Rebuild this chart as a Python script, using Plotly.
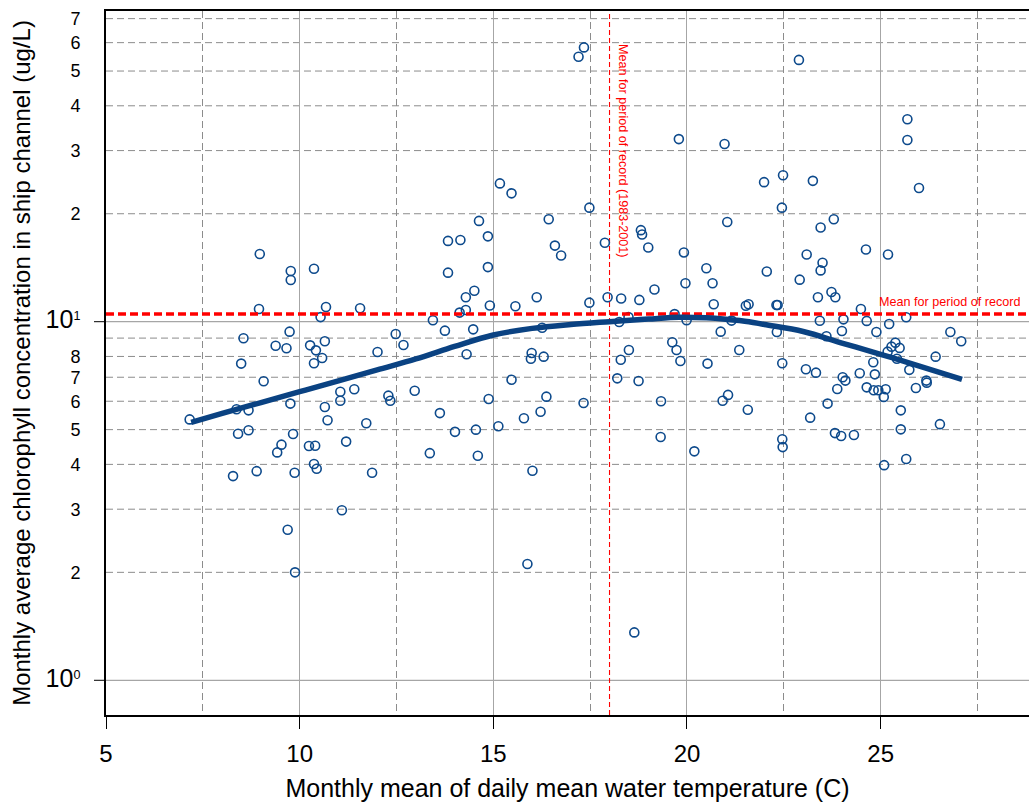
import math
import plotly.graph_objects as go

# ---------------- data ----------------
temp = [
    8.97, 9.77, 9.77, 10.37,
    17.20, 17.34, 19.79, 15.17, 15.47, 17.48, 14.63, 16.43, 13.83, 14.15, 14.86, 16.59, 16.75,
    18.81, 18.84, 19.00, 17.88, 19.92, 13.83, 14.86, 19.96, 14.51, 14.29, 16.12, 17.48, 17.95,
    18.30, 18.77, 19.16,
    22.89, 25.69, 25.69, 25.99, 20.97, 21.99, 22.48, 23.25, 22.45, 21.04, 23.45, 23.79, 20.50,
    20.66, 24.62, 25.19, 22.06, 23.09, 23.50, 23.45, 22.91, 23.73, 23.83, 23.38,
    8.95, 10.68, 10.54, 11.56, 9.74, 8.55, 9.38, 9.66, 10.27, 10.42, 10.65, 10.58, 10.37, 8.49,
    9.07, 12.48, 12.68, 12.01, 11.05, 11.41, 11.05, 10.65, 10.72, 12.29, 12.34, 12.97, 8.37,
    8.68, 9.76, 7.16, 8.41, 8.68, 9.83, 11.72, 11.20, 10.24, 10.40, 9.53, 9.42, 10.37, 10.44,
    8.28, 8.89, 9.87, 11.87, 11.09, 13.36,
    13.44, 13.75, 14.13, 14.29, 14.91, 15.57, 14.48, 14.31, 16.26, 15.99, 15.97, 16.30, 15.47,
    14.88, 16.37, 16.22, 15.79, 13.62, 14.01, 14.55, 15.13, 14.60, 16.01, 17.33, 20.69, 21.52,
    21.59, 18.25, 18.49, 19.68, 19.99, 21.15, 20.87, 19.62, 19.73, 18.50, 18.29, 19.83, 20.53,
    21.35, 18.20, 18.75, 19.33, 20.92, 21.06, 21.57, 19.32, 20.19,
    22.31, 22.34, 23.43, 24.04, 24.49, 24.64, 25.66, 25.22, 22.32, 23.60, 24.00, 24.89, 26.80,
    27.08, 25.38, 25.28, 25.49, 25.18, 25.42, 26.42, 22.46, 24.81, 23.07, 23.33, 25.74, 24.46,
    24.85, 24.02, 24.09, 26.18, 26.19, 23.88, 24.64, 24.82, 24.94, 25.13, 25.08, 25.91, 23.63,
    23.18, 25.52, 26.53, 25.52, 23.82, 23.98, 24.31, 22.46, 22.47, 25.66, 25.09,
    9.69, 9.88, 15.88, 18.64,
]
chl = [
    15.45, 13.85, 13.07, 14.05,
    54.8, 58.2, 32.3, 24.3, 22.8, 20.8, 19.1, 19.3, 16.8, 16.9, 17.3, 16.3, 15.3,
    18.0, 17.5, 16.1, 16.6, 15.6, 13.7, 14.2, 12.8, 12.2, 11.7, 11.7, 11.3, 11.7,
    11.6, 11.5, 12.3,
    53.7, 36.7, 32.1, 23.6, 31.3, 24.5, 25.6, 24.7, 20.8, 18.97, 18.3, 19.3, 14.1,
    12.8, 15.9, 15.4, 13.8, 15.4, 14.6, 13.9, 13.1, 12.1, 11.7, 11.7,
    10.85, 10.99, 10.3, 10.9, 9.38, 8.99, 8.57, 8.43, 8.59, 8.32, 8.82, 7.92, 7.66, 7.64,
    6.82, 9.24, 8.61, 8.23, 6.38, 6.48, 6.02, 5.78, 5.31, 6.22, 6.02, 6.42, 5.70,
    5.66, 5.91, 5.34, 4.87, 4.98, 4.86, 5.21, 4.63, 4.50, 4.51, 4.54, 4.32, 4.01, 3.89,
    3.71, 3.83, 3.79, 3.79, 2.98, 4.30,
    10.09, 9.44, 10.6, 10.78, 11.1, 11.04, 9.52, 8.11, 9.62, 8.18, 7.88, 7.99, 6.89,
    6.09, 6.18, 5.61, 5.38, 5.56, 4.93, 5.00, 5.11, 4.23, 3.84, 5.93, 11.18, 11.08,
    11.18, 9.98, 10.3, 10.5, 10.1, 10.07, 9.38, 8.76, 8.34, 8.34, 7.83, 7.77, 7.64,
    8.34, 6.95, 6.83, 6.00, 6.02, 6.25, 5.68, 4.77, 4.35,
    11.13, 11.13, 10.06, 10.15, 10.85, 10.05, 10.29, 9.85, 9.36, 9.11, 9.42, 9.36, 9.36,
    8.82, 8.74, 8.52, 8.45, 8.25, 7.88, 7.99, 7.66, 7.71, 7.37, 7.21, 7.34, 7.18,
    7.13, 7.00, 6.85, 6.85, 6.76, 6.49, 6.56, 6.44, 6.44, 6.48, 6.17, 6.53, 5.91,
    5.40, 5.66, 5.18, 5.01, 4.89, 4.80, 4.83, 4.70, 4.47, 4.14, 3.98,
    2.63, 2.00, 2.11, 1.36,
]

curve_temp = [7.2, 8, 9, 10, 11, 12, 13, 14, 15, 16, 17, 18, 19, 19.8, 20.5, 21, 21.6,
              22, 23, 24, 25, 26, 27.1]
curve_chl = [5.24, 5.55, 5.95, 6.38, 6.84, 7.34, 7.87, 8.53, 9.18, 9.58, 9.82, 10.0, 10.17,
             10.29, 10.25, 10.16, 10.0, 9.82, 9.39, 8.72, 8.11, 7.52, 6.90]

mean_chl = 10.5
mean_temp = 18.0

x_range = [5, 28.83]
y_range_log = [-0.0968, 1.8664]

x_major = [5, 10, 15, 20, 25]
x_minor = [7.5, 12.5, 17.5, 22.5, 27.5]
y_tick_vals = [1, 2, 3, 4, 5, 6, 7, 8, 10, 20, 30, 40, 50, 60, 70]
y_tick_text = ["<span style='font-size:25px'>10</span><sup>0</sup>",
               "2", "3", "4", "5", "6", "7", "8",
               "<span style='font-size:25px'>10</span><sup>1</sup>",
               "2", "3", "4", "5", "6", "7"]
y_grid_solid = [1, 10]
y_grid_dashed = [2, 3, 4, 5, 6, 7, 8, 9, 20, 30, 40, 50, 60, 70]

FONT = "Liberation Sans, Arial, Helvetica, sans-serif"
BLUE = "#0d4a8c"
LINE_BLUE = "#0a4282"
RED = "#ff0000"
GRID_SOLID = "#a6a6a6"
GRID_DASH = "#8c8c8c"
PLOT_W = 923

fig = go.Figure()

# vertical mean line
fig.add_trace(go.Scatter(
    x=[mean_temp, mean_temp], y=[10 ** y_range_log[0], 10 ** y_range_log[1]],
    mode="lines", line=dict(color=RED, width=1.1, dash="5px,3px"),
    hoverinfo="skip", showlegend=False))

# points
fig.add_trace(go.Scatter(
    x=temp, y=chl, mode="markers",
    marker=dict(symbol="circle-open", size=9, color=BLUE, line=dict(color=BLUE, width=1.6)),
    showlegend=False))

# horizontal mean line
fig.add_trace(go.Scatter(
    x=x_range, y=[mean_chl, mean_chl], mode="lines",
    line=dict(color=RED, width=3.5, dash="8px,4px"),
    hoverinfo="skip", showlegend=False))

# smooth curve
fig.add_trace(go.Scatter(
    x=curve_temp, y=curve_chl, mode="lines",
    line=dict(color=LINE_BLUE, width=5.5, shape="spline"),
    showlegend=False))

shapes = []
for v in y_grid_dashed:
    shapes.append(dict(type="line", xref="paper", x0=0, x1=1, yref="y", y0=v, y1=v,
                       layer="below", line=dict(color=GRID_DASH, width=1, dash="7px,4px")))
for v in y_grid_solid:
    shapes.append(dict(type="line", xref="paper", x0=0, x1=1, yref="y", y0=v, y1=v,
                       layer="below", line=dict(color=GRID_SOLID, width=1.3)))
    # visible tick mark only at the decades
    shapes.append(dict(type="line", xref="paper", x0=-12 / PLOT_W, x1=0, yref="y", y0=v, y1=v,
                       layer="above", line=dict(color="black", width=1)))

fig.update_layout(
    width=1029, height=811,
    margin=dict(l=106, r=0, t=11, b=96),
    plot_bgcolor="white", paper_bgcolor="white",
    font=dict(family=FONT, color="black"),
    showlegend=False,
    shapes=shapes,
    xaxis=dict(
        range=x_range, tickmode="array", tickvals=x_major,
        ticks="outside", ticklen=12, tickwidth=1, tickcolor="black",
        tickfont=dict(size=24), ticklabelstandoff=4,
        showline=True, linecolor="black", linewidth=2, mirror=True,
        showgrid=True, gridcolor=GRID_SOLID, gridwidth=1.3, zeroline=False,
        minor=dict(tickmode="array", tickvals=x_minor, ticks="", showgrid=True,
                   gridcolor=GRID_DASH, gridwidth=1, griddash="7px,4px"),
        title=dict(text="Monthly mean of daily mean water temperature (C)",
                   font=dict(size=25), standoff=14),
    ),
    yaxis=dict(
        type="log", range=y_range_log, tickmode="array",
        tickvals=y_tick_vals, ticktext=y_tick_text,
        ticks="outside", ticklen=12, tickwidth=1, tickcolor="rgba(0,0,0,0)",
        tickfont=dict(size=18), ticklabelstandoff=8,
        showline=True, linecolor="black", linewidth=2,
        showgrid=False, zeroline=False,
        title=dict(text="Monthly average chlorophyll concentration in ship channel (ug/L)",
                   font=dict(size=24), standoff=8),
    ),
    annotations=[
        dict(x=28.644, y=1 + (321.7 - 302.5) / 358.6, xref="x", yref="y",
             text="Mean for period of record", showarrow=False, xanchor="right",
             yanchor="middle", font=dict(color=RED, size=12.6, family=FONT)),
        dict(x=18.341, y=1.4766, xref="x", yref="y",
             text="Mean for period of record (1983-2001)", showarrow=False,
             textangle=90, xanchor="center", yanchor="middle",
             font=dict(color=RED, size=12.6, family=FONT)),
    ],
)

fig.write_html("out.html")
